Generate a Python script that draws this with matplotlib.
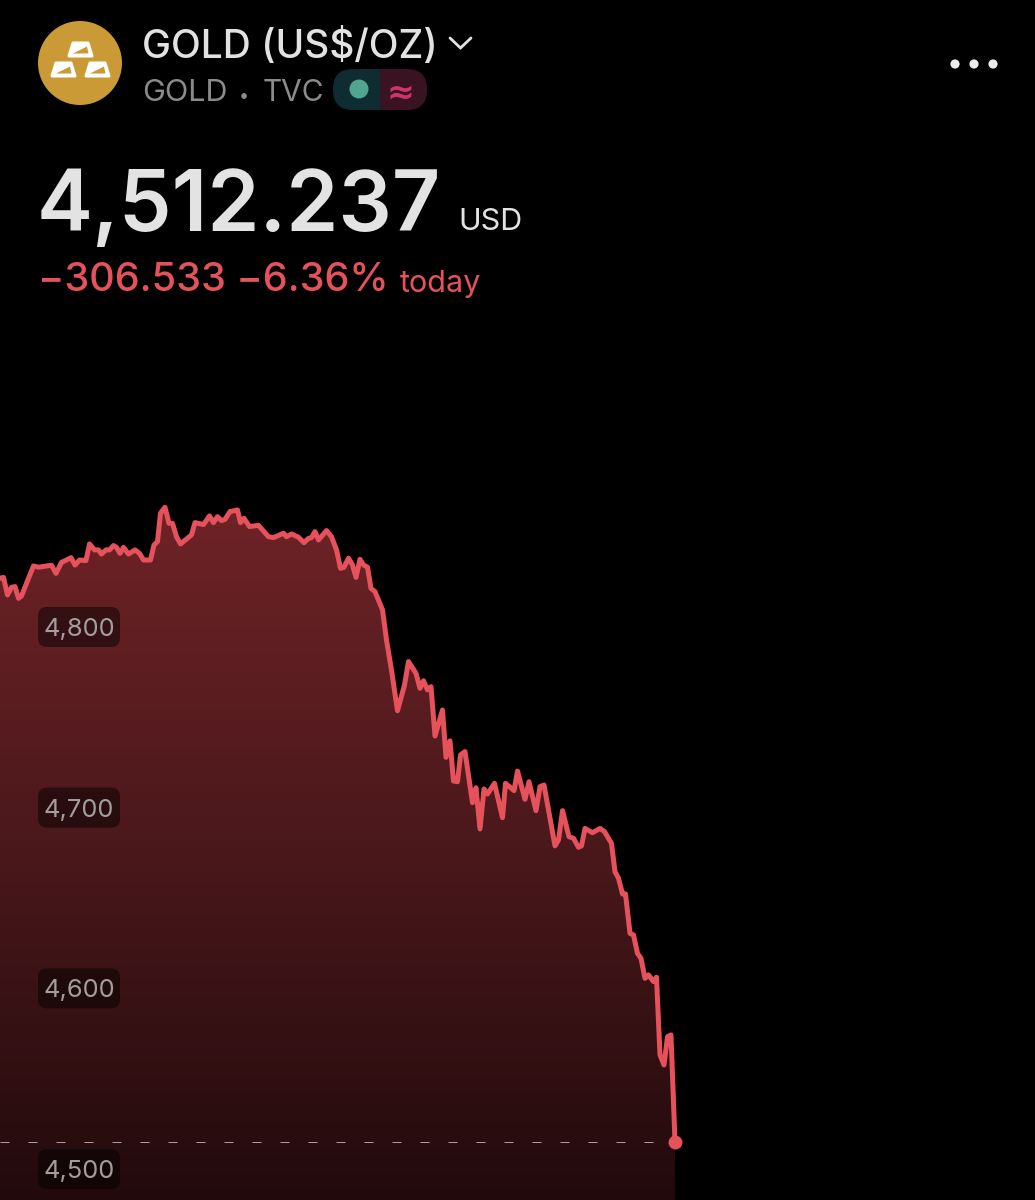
import matplotlib
matplotlib.use("Agg")
import matplotlib.pyplot as plt
import numpy as np
from matplotlib.colors import LinearSegmentedColormap
from matplotlib.patches import Circle, FancyBboxPatch, Polygon, Rectangle

# minutes from the left edge of the chart window, and price in US$/oz
minutes = [
    0, 7, 15, 23, 30, 37, 43, 53, 67, 77, 103, 112, 123, 133, 142, 150, 159, 172, 179, 189,
    197, 203, 212, 219, 227, 233, 240, 247, 257, 270, 279, 287, 301, 308, 315, 321, 330, 338, 345, 353,
    361, 383, 390, 407, 419, 427, 435, 443, 450, 460, 475, 481, 488, 499, 517, 537, 547, 567, 573, 583,
    597, 608, 617, 623, 630, 637, 653, 663, 673, 681, 688, 697, 705, 712, 720, 727, 735, 742, 750, 765,
    773, 783, 795, 809, 817, 832, 840, 847, 855, 862, 870, 885, 892, 900, 907, 915, 921, 930, 945, 952,
    960, 968, 975, 989, 1005, 1011, 1028, 1035, 1050, 1058, 1072, 1080, 1088, 1110, 1117, 1125, 1138, 1147, 1157, 1163,
    1170, 1185, 1200, 1209, 1223, 1230, 1237, 1245, 1251, 1260, 1267, 1275, 1282, 1290, 1297, 1307, 1313, 1320, 1328, 1335,
    1342, 1350,
]
prices = [
    4824.2, 4824.7, 4815.0, 4819.2, 4819.6, 4813.1, 4814.4, 4821.4, 4831.0, 4830.3, 4831.4, 4826.9, 4833.0, 4834.3, 4835.6, 4831.5, 4834.3, 4834.0, 4843.2, 4839.9,
    4839.9, 4837.6, 4839.9, 4839.9, 4842.3, 4841.3, 4838.0, 4841.3, 4837.6, 4839.9, 4838.0, 4834.3, 4834.3, 4842.6, 4844.5, 4860.2, 4863.5, 4854.6, 4854.6, 4847.2,
    4843.2, 4848.2, 4855.0, 4853.9, 4858.7, 4855.0, 4858.3, 4856.1, 4856.8, 4861.1, 4862.0, 4855.0, 4857.4, 4852.8, 4853.5, 4847.2, 4846.7, 4849.1, 4847.2, 4848.7,
    4846.9, 4843.9, 4846.3, 4846.7, 4850.0, 4845.4, 4850.6, 4847.2, 4839.9, 4829.7, 4830.3, 4835.3, 4831.6, 4824.7, 4834.7, 4831.6, 4830.3, 4818.6, 4816.8, 4806.7,
    4790.0, 4773.4, 4750.9, 4765.1, 4778.1, 4771.6, 4763.3, 4767.5, 4762.4, 4764.2, 4736.9, 4751.3, 4725.1, 4734.2, 4712.0, 4711.6, 4726.4, 4728.3, 4700.0, 4708.3,
    4685.5, 4707.6, 4704.8, 4710.7, 4691.7, 4710.7, 4706.7, 4717.5, 4701.9, 4711.6, 4695.6, 4708.9, 4709.8, 4676.1, 4679.4, 4695.6, 4681.2, 4680.3, 4675.3, 4676.1,
    4685.8, 4683.4, 4685.8, 4684.0, 4677.5, 4661.8, 4658.2, 4649.5, 4649.5, 4627.7, 4626.8, 4616.6, 4613.9, 4602.8, 4604.7, 4601.0, 4603.4, 4560.4, 4554.9, 4570.5,
    4571.5, 4512.237,
]
y_ticks = [4800, 4700, 4600, 4500]
y_tick_labels = ["4,800", "4,700", "4,600", "4,500"]

RED = "#e6525c"
plt.rcParams["font.family"] = ["Inter", "DejaVu Sans"]

fig = plt.figure(figsize=(10.35, 12), dpi=100, facecolor="black")
ax = fig.add_axes([0, 0, 1, 1])
ax.axis("off")

# area under the line, gradient clipped to the fill shape
fill = ax.fill_between(minutes, prices, 4480.14, color="none")
cmap = LinearSegmentedColormap.from_list("area", ["#220a0c", "#4a181b", "#702327"])
grad = np.linspace(0, 1, 256).reshape(-1, 1)
img = ax.imshow(grad, extent=[0, 2070, 4480.14, 4870], origin="lower", aspect="auto", cmap=cmap, zorder=1)
img.set_clip_path(fill.get_paths()[0], ax.transData)
ax.set_xlim(0, 2070)
ax.set_ylim(4480.14, 5144.2)

ax.plot([0, minutes[-1]], [prices[-1], prices[-1]], color="#b09a9b", lw=0.72, dashes=(9, 19), zorder=2)
ax.plot(minutes, prices, color=RED, lw=3.6, solid_joinstyle="round", zorder=3)
ax.plot(minutes[-1], prices[-1], "o", color=RED, ms=10, mew=0, zorder=4)

# overlay in screen pixels for the app header
ui = fig.add_axes([0, 0, 1, 1], facecolor="none")
ui.set_xlim(0, 1035)
ui.set_ylim(1200, 0)
ui.axis("off")

for tick, label in zip(y_ticks, y_tick_labels):
    yp = 1200 - ax.transData.transform((0, tick))[1] + 5
    ui.add_patch(FancyBboxPatch((38, yp - 20), 82, 40, boxstyle="round,pad=0,rounding_size=9",
                                fc="black", ec="none", alpha=0.47, zorder=5))
    ui.text(79, yp, label, color="#a39d9d", fontsize=18.4, ha="center", va="center_baseline", zorder=6)

# gold icon
GOLD = "#c99a35"
ui.add_patch(Circle((80, 63), 42, fc=GOLD, ec="none"))
for ox, oy in [(67, 42), (50, 62), (84, 62)]:
    ui.add_patch(Polygon([(ox + 6, oy + 1), (ox + 21, oy + 1), (ox + 25, oy + 14), (ox + 2, oy + 14)],
                         closed=True, fc="white", ec="white", lw=2.2, joinstyle="round"))
    ui.add_patch(Polygon([(ox + 6, oy + 11.5), (ox + 20, oy + 4.5), (ox + 21.5, oy + 11.5)],
                         closed=True, fc=GOLD, ec="none"))

ui.text(142, 58, "GOLD (US$/OZ)", color="#e2e2e2", fontsize=28, fontweight="medium", va="baseline")
ui.plot([450, 460.5, 471], [38, 48, 38], color="#e2e2e2", lw=2, solid_capstyle="round", solid_joinstyle="miter")
ui.text(142, 101, "GOLD", color="#8b8b8b", fontsize=22, va="baseline")
ui.text(244, 101, "•", color="#8b8b8b", fontsize=13, ha="center", va="baseline")
ui.text(263, 101, "TVC", color="#8b8b8b", fontsize=21.5, va="baseline")

# status pill
pill = FancyBboxPatch((333, 69), 94, 41, boxstyle="round,pad=0,rounding_size=20", fc="none", ec="none")
ui.add_patch(pill)
left = Rectangle((333, 69), 47, 41, fc="#0f2c33", ec="none")
right = Rectangle((380, 69), 47, 41, fc="#3a1322", ec="none")
ui.add_patch(left)
ui.add_patch(right)
left.set_clip_path(pill)
right.set_clip_path(pill)
ui.add_patch(Circle((359, 89), 9.5, fc="#4fa58e", ec="none"))
ui.text(401, 90, "≈", color="#d0336b", fontsize=24, fontweight="bold", ha="center", va="center_baseline",
        family=["DejaVu Sans"])

for x in [955, 974, 993]:
    ui.add_patch(Circle((x, 64), 4.6, fc="#ececec", ec="none"))

ui.text(37, 231, "4,512.237", color="#e3e3e3", fontsize=60.5, fontweight="semibold", va="baseline")
ui.text(458, 230, "USD", color="#e3e3e3", fontsize=22, va="baseline")
ui.text(38, 291, "−306.533 −6.36%", color=RED, fontsize=28.5, fontweight="medium", va="baseline")
ui.text(400, 292, "today", color=RED, fontsize=22, va="baseline")

fig.savefig("out.png", dpi=100, facecolor="black")
